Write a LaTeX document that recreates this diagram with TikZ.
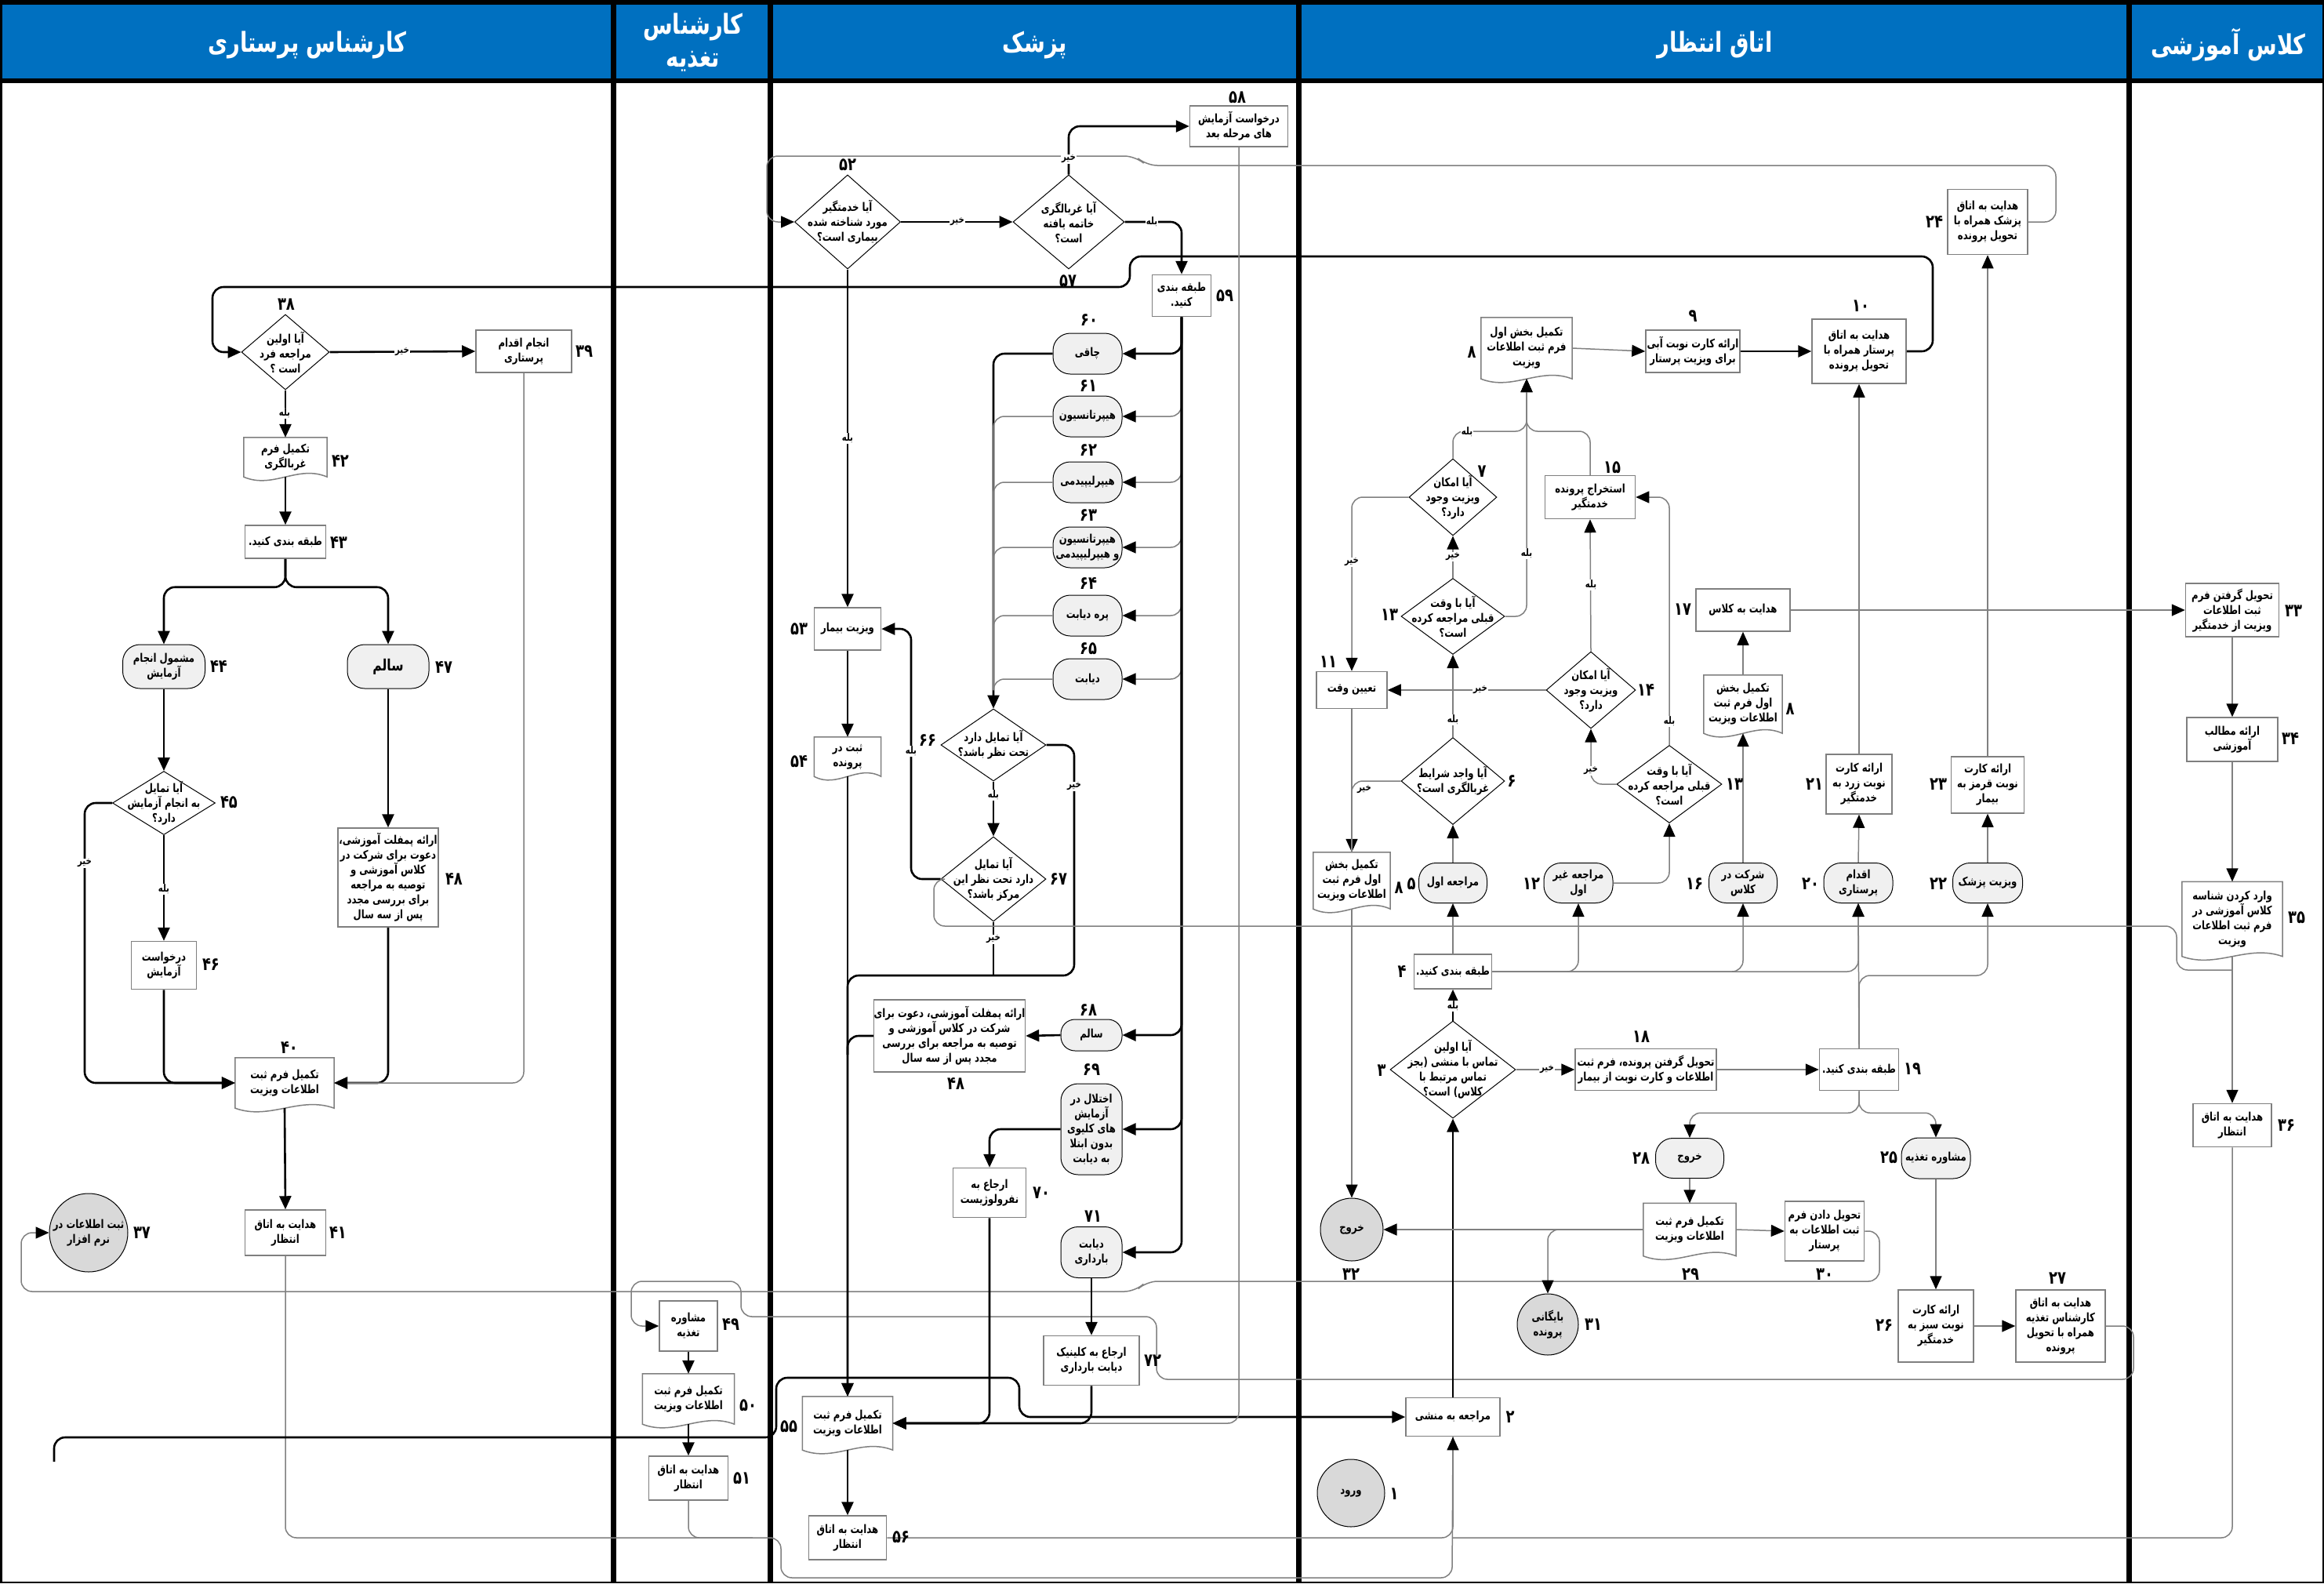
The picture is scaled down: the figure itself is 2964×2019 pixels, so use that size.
\documentclass[tikz,border=0pt]{standalone}
\usepackage{fontspec}
\usetikzlibrary{arrows.meta,shapes.geometric,calc}
\TeXXeTstate=1
\newfontfamily\fafont[Script=Arabic,FakeStretch=0.78]{DejaVu Sans}
\newcommand\rl[1]{\beginR#1\endR}
\definecolor{hdr}{HTML}{0070C0}
\definecolor{bord}{HTML}{7F7F7F}
\definecolor{stad}{HTML}{F0F0F0}
\definecolor{circ}{HTML}{D9D9D9}
\definecolor{thinln}{HTML}{808080}
\tikzset{
  txt/.style={font=\fafont\bfseries\fontsize{15}{19}\selectfont, align=center, inner sep=0pt},
  sz/.style 2 args={minimum width=#1pt, minimum height=#2pt},
  box/.style={txt, draw=bord, line width=1.5pt, fill=white, rectangle},
  doc/.style={txt, rectangle},
  stadium/.style={txt, draw=black, line width=1pt, fill=stad, rounded corners=22pt},
  dia/.style={diamond, draw=black, line width=1pt, fill=white, inner sep=0pt},
  circnode/.style={txt, circle, draw=black, line width=1pt, fill=circ},
  num/.style={font=\fafont\bfseries\fontsize{23}{23}\selectfont, inner sep=0pt},
  lbl/.style={font=\fafont\bfseries\fontsize{13}{13}\selectfont, fill=white, inner sep=1pt},
  hdrtxt/.style={font=\fafont\bfseries\fontsize{35}{42}\selectfont, text=white, align=center, inner sep=0pt},
  thk/.style={draw=black, line width=2.6pt, rounded corners=14pt},
  thn/.style={draw=thinln, line width=1.5pt, rounded corners=14pt},
  arr/.style={-{Triangle[length=17pt,width=15pt,color=black]}},
}
\newcommand\docdraw[1]{\draw[draw=bord,line width=1.5pt] (#1.south west) -- (#1.north west) -- (#1.north east) -- (#1.south east) .. controls ($(#1.south east)!0.35!(#1.south west)+(0,-16)$) and ($(#1.south east)!0.65!(#1.south west)+(0,16)$) .. (#1.south west) -- cycle;}
\begin{document}
\begin{tikzpicture}[x=1pt,y=-1pt]
\useasboundingbox (0,0) rectangle (2964,2019);
% ---------- lanes ----------
\fill[black] (0,0) rectangle (2964,6);
\fill[hdr] (0,6) rectangle (2964,100);
\fill[black] (0,100) rectangle (2964,106);
\foreach \xx in {782,982,1656,2715} {\draw[line width=7pt] (\xx,0) -- (\xx,2019);}
\draw[line width=3pt] (1.5,0) -- (1.5,2019);
\draw[line width=2pt] (2963,0) -- (2963,2019);
\draw[line width=2pt] (0,2018) -- (2964,2018);
\node[hdrtxt] (h1) at (392,57) {\rl{کارشناس پرستاری}};
\node[hdrtxt] (h2) at (884,54) {\rl{کارشناس}\\\rl{تغذیه}};
\node[hdrtxt] (h3) at (1320,57) {\rl{پزشک}};
\node[hdrtxt] (h4) at (2187,57) {\rl{اتاق انتظار}};
\node[hdrtxt] (h5) at (2842,57) {\rl{کلاس آموزشی}};

% ---------- lane 1: nursing ----------
\node[dia,sz={112}{96}] (d38) at (364,449) {};
\node[txt] (t38) at (d38) {\rl{آیا اولین}\\\rl{مراجعه فرد}\\\rl{است ؟}};
\node[box,sz={122}{54}] (n39) at (668,448) {\rl{انجام اقدام}\\\rl{پرستاری}};
\node[doc,sz={106}{50}] (n42) at (364,583) {\rl{تکمیل فرم}\\\rl{غربالگری}}; \docdraw{n42}
\node[box,sz={103}{42}] (n43) at (364,691) {\rl{طبقه بندی کنید.}};
\node[stadium,sz={105}{56}] (n44) at (209,850) {\rl{مشمول انجام}\\\rl{آزمایش}};
\node[stadium,sz={104}{56},font=\fafont\bfseries\fontsize{20}{22}\selectfont] (n47) at (495,850) {\rl{سالم}};
\node[dia,sz={131}{81}] (d45) at (209,1024) {};
\node[txt] (t45) at (d45) {\rl{آیا تمایل}\\\rl{به انجام آزمایش}\\\rl{دارد؟}};
\node[box,sz={83}{61}] (n46) at (209,1231) {\rl{درخواست}\\\rl{آزمایش}};
\node[box,sz={128}{126}] (n48) at (495,1119) {\rl{ارائه پمفلت آموزشی،}\\\rl{دعوت برای شرکت در}\\\rl{کلاس آموزشی و}\\\rl{توصیه به مراجعه}\\\rl{برای بررسی مجدد}\\\rl{پس از سه سال}};
\node[doc,sz={126}{64}] (n40) at (363,1381) {\rl{تکمیل فرم ثبت}\\\rl{اطلاعات ویزیت}}; \docdraw{n40}
\node[box,sz={103}{58}] (n41) at (364,1572) {\rl{هدایت به اتاق}\\\rl{انتظار}};
\node[circnode,minimum size=100pt] (c37) at (113,1572) {\rl{ثبت اطلاعات در}\\\rl{نرم افزار}};

% ---------- lane 2: nutrition ----------
\node[box,sz={74}{64}] (n49) at (878,1691) {\rl{مشاوره}\\\rl{تغذیه}};
\node[doc,sz={117}{64}] (n50) at (878,1784) {\rl{تکمیل فرم ثبت}\\\rl{اطلاعات ویزیت}}; \docdraw{n50}
\node[box,sz={101}{56}] (n51) at (878,1885) {\rl{هدایت به اتاق}\\\rl{انتظار}};

% ---------- lane 3: doctor ----------
\node[dia,sz={135}{120}] (d52) at (1081,283) {};
\node[txt] (t52) at (d52) {\rl{آیا خدمتگیر}\\\rl{مورد شناخته شده}\\\rl{بیماری است؟}};
\node[dia,sz={142}{120}] (d57) at (1363,283) {};
\node[txt] (t57) at (d57) {\rl{آیا غربالگری}\\\rl{خاتمه یافته}\\\rl{است؟}};
\node[box,sz={125}{52}] (n58) at (1580,161) {\rl{درخواست آزمایش}\\\rl{های مرحله بعد}};
\node[box,sz={75}{53}] (n59) at (1507,377) {\rl{طبقه بندی}\\\rl{کنید.}};
\node[stadium,sz={88}{52}] (n60) at (1387,451) {\rl{چاقی}};
\node[stadium,sz={88}{52}] (n61) at (1387,531) {\rl{هیپرتانسیون}};
\node[stadium,sz={88}{52}] (n62) at (1387,615) {\rl{هیپرلیپیدمی}};
\node[stadium,sz={88}{52}] (n63) at (1387,698) {\rl{هیپرتانسیون}\\\rl{و هیپرلیپیدمی}};
\node[stadium,sz={88}{52}] (n64) at (1387,785) {\rl{پره دیابت}};
\node[stadium,sz={88}{52}] (n65) at (1387,866) {\rl{دیابت}};
\node[dia,sz={134}{92}] (d66) at (1267,950) {};
\node[txt] (t66) at (d66) {\rl{آیا تمایل دارد}\\\rl{تحت نظر باشد؟}};
\node[dia,sz={134}{108}] (d67) at (1267,1121) {};
\node[txt] (t67) at (d67) {\rl{آیا تمایل}\\\rl{دارد تحت نظر این}\\\rl{مرکز باشد؟}};
\node[box,sz={85}{54}] (n53) at (1081,802) {\rl{ویزیت بیمار}};
\node[doc,sz={85}{50}] (n54) at (1081,965) {\rl{ثبت در}\\\rl{پرونده}}; \docdraw{n54}
\node[box,sz={193}{92}] (n48d) at (1211,1321) {\rl{ارائه پمفلت آموزشی، دعوت برای}\\\rl{شرکت در کلاس آموزشی و}\\\rl{توصیه به مراجعه برای بررسی}\\\rl{مجدد پس از سه سال}};
\node[stadium,sz={78}{40},rounded corners=18pt] (n68) at (1392,1320) {\rl{سالم}};
\node[stadium,sz={78}{116}] (n69) at (1392,1440) {\rl{اختلال در}\\\rl{آزمایش}\\\rl{های کلیوی}\\\rl{بدون ابتلا}\\\rl{به دیابت}};
\node[box,sz={93}{63}] (n70) at (1262,1521) {\rl{ارجاع به}\\\rl{نفرولوژیست}};
\node[stadium,sz={78}{65}] (n71) at (1392,1597) {\rl{دیابت}\\\rl{بارداری}};
\node[box,sz={122}{63}] (n72) at (1392,1735) {\rl{ارجاع به کلینیک}\\\rl{دیابت بارداری}};
\node[doc,sz={115}{68}] (n55) at (1081,1815) {\rl{تکمیل فرم ثبت}\\\rl{اطلاعات ویزیت}}; \docdraw{n55}
\node[box,sz={99}{56}] (n56) at (1081,1961) {\rl{هدایت به اتاق}\\\rl{انتظار}};

% ---------- lane 4: waiting room ----------
\node[circnode,minimum size=86pt] (c1) at (1723,1904) {\rl{ورود}};
\node[box,sz={120}{49}] (n2) at (1853,1807) {\rl{مراجعه به منشی}};
\node[dia,sz={160}{124}] (d3) at (1853,1364) {};
\node[txt] (t3) at (d3) {\rl{آیا اولین}\\\rl{تماس با منشی (بجز}\\\rl{تماس مرتبط با}\\\rl{کلاس) است؟}};
\node[box,sz={99}{44}] (n4) at (1853,1239) {\rl{طبقه بندی کنید.}};
\node[stadium,sz={87}{51}] (n5) at (1853,1126) {\rl{مراجعه اول}};
\node[stadium,sz={88}{51}] (n12) at (2013,1126) {\rl{مراجعه غیر}\\\rl{اول}};
\node[stadium,sz={87}{51}] (n16) at (2223,1126) {\rl{شرکت در}\\\rl{کلاس}};
\node[stadium,sz={88}{51}] (n20) at (2370,1126) {\rl{اقدام}\\\rl{پرستاری}};
\node[stadium,sz={89}{51}] (n22) at (2535,1126) {\rl{ویزیت پزشک}};
\node[doc,sz={98}{72}] (n8b) at (1724,1123) {\rl{تکمیل بخش}\\\rl{اول فرم ثبت}\\\rl{اطلاعات ویزیت}}; \docdraw{n8b}
\node[dia,sz={132}{111}] (d6) at (1853,996) {};
\node[txt] (t6) at (d6) {\rl{آیا واجد شرایط}\\\rl{غربالگری است؟}};
\node[dia,sz={132}{97}] (d13a) at (1853,786) {};
\node[txt] (t13a) at (d13a) {\rl{آیا با وقت}\\\rl{قبلی مراجعه کرده}\\\rl{است؟}};
\node[dia,sz={112}{98}] (d7) at (1853,634) {};
\node[txt] (t7) at (d7) {\rl{آیا امکان}\\\rl{ویزیت وجود}\\\rl{دارد؟}};
\node[box,sz={90}{47}] (n11) at (1724,880) {\rl{تعیین وقت}};
\node[doc,sz={116}{78}] (n8a) at (1947,444) {\rl{تکمیل بخش اول}\\\rl{فرم ثبت اطلاعات}\\\rl{ویزیت}}; \docdraw{n8a}
\node[box,sz={120}{54}] (n9) at (2159,448) {\rl{ارائه کارت نوبت آبی}\\\rl{برای ویزیت پرستار}};
\node[box,sz={120}{82}] (n10) at (2371,448) {\rl{هدایت به اتاق}\\\rl{پرستار همراه با}\\\rl{تحویل پرونده}};
\node[box,sz={115}{55}] (n15) at (2028,634) {\rl{استخراج پرونده}\\\rl{خدمتگیر}};
\node[dia,sz={114}{98}] (d14) at (2029,880) {};
\node[txt] (t14) at (d14) {\rl{آیا امکان}\\\rl{ویزیت وجود}\\\rl{دارد؟}};
\node[dia,sz={134}{99}] (d13b) at (2129,1000) {};
\node[txt] (t13b) at (d13b) {\rl{آیا با وقت}\\\rl{قبلی مراجعه کرده}\\\rl{است؟}};
\node[box,sz={120}{54}] (n17) at (2223,778) {\rl{هدایت به کلاس}};
\node[doc,sz={100}{74}] (n8c) at (2223,898) {\rl{تکمیل بخش}\\\rl{اول فرم ثبت}\\\rl{اطلاعات ویزیت}}; \docdraw{n8c}
\node[box,sz={84}{76}] (n21) at (2371,1000) {\rl{ارائه کارت}\\\rl{نوبت زرد به}\\\rl{خدمتگیر}};
\node[box,sz={93}{72}] (n23) at (2535,1001) {\rl{ارائه کارت}\\\rl{نوبت قرمز به}\\\rl{بیمار}};
\node[box,sz={102}{83}] (n24) at (2535,283) {\rl{هدایت به اتاق}\\\rl{پزشک همراه با}\\\rl{تحویل پرونده}};
\node[box,sz={180}{53}] (n18) at (2099,1364) {\rl{تحویل گرفتن پرونده، فرم ثبت}\\\rl{اطلاعات و کارت نوبت از بیمار}};
\node[box,sz={101}{53}] (n19) at (2371,1364) {\rl{طبقه بندی کنید.}};
\node[stadium,sz={87}{51}] (n28) at (2155,1477) {\rl{خروج}};
\node[doc,sz={118}{67}] (n29) at (2155,1568) {\rl{تکمیل فرم ثبت}\\\rl{اطلاعات ویزیت}}; \docdraw{n29}
\node[box,sz={101}{76}] (n30) at (2327,1570) {\rl{تحویل دادن فرم}\\\rl{ثبت اطلاعات به}\\\rl{پرستار}};
\node[circnode,minimum size=78pt] (c31) at (1974,1689) {\rl{بایگانی}\\\rl{پرونده}};
\node[circnode,minimum size=80pt] (c32) at (1724,1568) {\rl{خروج}};
\node[stadium,sz={88}{52}] (n25) at (2469,1477) {\rl{مشاوره تغذیه}};
\node[box,sz={96}{92}] (n26) at (2469,1691) {\rl{ارائه کارت}\\\rl{نوبت سبز به}\\\rl{خدمتگیر}};
\node[box,sz={114}{92}] (n27) at (2628,1691) {\rl{هدایت به اتاق}\\\rl{کارشناس تغذیه}\\\rl{همراه با تحویل}\\\rl{پرونده}};

% ---------- lane 5: class ----------
\node[box,sz={119}{68}] (n33) at (2847,778) {\rl{تحویل گرفتن فرم}\\\rl{ثبت اطلاعات}\\\rl{ویزیت از خدمتگیر}};
\node[box,sz={116}{56}] (n34) at (2847,943) {\rl{ارائه مطالب}\\\rl{آموزشی}};
\node[doc,sz={128}{95}] (n35) at (2847,1172) {\rl{وارد کردن شناسه}\\\rl{کلاس آموزشی در}\\\rl{فرم ثبت اطلاعات}\\\rl{ویزیت}}; \docdraw{n35}
\node[box,sz={100}{55}] (n36) at (2847,1435) {\rl{هدایت به اتاق}\\\rl{انتظار}};

% ---------- connectors: lane 1 ----------
\draw[thk,arr] (n10.east) -| (2465,327) -- (1441,327) -- (1441,366) -- (271,366) |- (d38.west);
\draw[thk,arr] (d38.east) -- (n39.west);
\draw[thk,arr] (d38.south) -- (n42.north);
\draw[thk,arr] (n42.south) -- (n43.north);
\draw[thk,arr] (n43.south) -- ++(0,36) -| (n44.north);
\draw[thk,arr] (n43.south) -- ++(0,36) -| (n47.north);
\draw[thk,arr] (n44.south) -- (d45.north);
\draw[thk,arr] (d45.west) -| (108,1381) -- (n40.west);
\draw[thk,arr] (d45.south) -- (n46.north);
\draw[thk,arr] (n46.south) |- (n40.west);
\draw[thk,arr] (n47.south) -- (n48.north);
\draw[thk,arr] (n48.south) |- (n40.east);
\draw[thn,arr] (n39.south) |- (n40.east);
\draw[thk,arr] (n40.south) -- (n41.north);
\draw[thn] (n41.south) |- (996,1961) |- (1852,2012) -- (n2.south);
\draw[thn] (n51.south) |- (960,1961);
\draw[thn,arr] (n56.east) -| (n2.south);
\draw[thn] (n36.south) |- (1852,1961);
\draw[thn,arr] (n30.east) -| (2397,1634) -- (1462,1634) -- (1448,1647) -- (27,1647) |- (c37.west);

% ---------- connectors: lane 2 ----------
\draw[thn,arr] (n27.east) -| (2721,1759) -- (1475,1759) -- (1475,1679) -- (945,1679) -- (945,1634) -- (805,1634) |- (n49.west);
\draw[thk,arr] (n49.south) -- (n50.north);
\draw[thk,arr] (n50.south) -- (n51.north);
\coordinate (s22) at (69,1864);
\draw[thk,arr] (s22) -- (69,1833) -- (990,1833) -- (990,1757) -- (1300,1757) -- (1300,1807) -- (n2.west);

% ---------- connectors: lane 3 ----------
\draw[thn,arr] (n24.east) -| (2622,211) -- (1462,211) -- (1448,199) -- (978,199) |- (d52.west);
\draw[thk,arr] (d52.east) -- (d57.west);
\draw[thk,arr] (d57.north) |- (n58.west);
\draw[thk,arr] (d57.east) -| (n59.north);
\draw[thn,arr] (n58.south) |- (n55.east);
\draw[thk,arr] (n59.south) |- (n60.east);
\foreach \n in {n61,n62,n63,n64,n65} {\draw[thn,arr] (n59.south) |- (\n.east);}
\draw[thk,arr] (n59.south) |- (n68.east);
\draw[thk,arr] (n59.south) |- (n69.east);
\draw[thk,arr] (n59.south) |- (n71.east);
\draw[thk,arr] (n60.west) -| (d66.north);
\foreach \n in {n61,n62,n63,n64,n65} {\draw[thn] (\n.west) -| (1267,880);}
\draw[thk,arr] (d66.south) -- (d67.north);
\draw[thk,arr] (d66.east) -| (1370,1244) -| (n55.north);
\draw[thk] (d67.south) -- (1267,1244);
\draw[thk,arr] (d67.west) -| (1162,802) -- (n53.east);
\draw[thn] (d67.west) -| (1191,1181) -- (2776,1181) |- (2847,1237);
\draw[thk,arr] (d52.south) -- (n53.north);
\draw[thk,arr] (n53.south) -- (n54.north);
\draw[thk,arr] (n54.south) -- (n55.north);
\draw[thk,arr] (n68.west) -- (n48d.east);
\draw[thk] (n48d.west) -| (1081,1345);
\draw[thk,arr] (n69.west) -| (n70.north);
\draw[thk,arr] (n70.south) |- (n55.east);
\draw[thk,arr] (n71.south) -- (n72.north);
\draw[thk,arr] (n72.south) |- (n55.east);
\draw[thk,arr] (n55.south) -- (n56.north);

% ---------- connectors: lane 4 ----------
\draw[thk,arr] (n2.north) -- (d3.south);
\draw[thk,arr] (d3.north) -- (n4.south);
\draw[thn,arr] (d3.east) -- (n18.west);
\draw[thn,arr] (n18.east) -- (n19.west);
\draw[thn,arr] (n19.south) -- ++(0,28) -| (n28.north);
\draw[thn,arr] (n19.south) -- ++(0,28) -| (n25.north);
\draw[thn,arr] (n28.south) -- (n29.north);
\draw[thn,arr] (n29.east) -- (n30.west);
\draw[thn,arr] (n29.west) -- (c32.east);
\draw[thn,arr] (n29.west) -| (c31.north);
\draw[thn,arr] (n25.south) -- (n26.north);
\draw[thn,arr] (n26.east) -- (n27.west);
\draw[thn,arr] (n4.north) -- (n5.south);
\draw[thn,arr] (n4.east) -| (n12.south);
\draw[thn,arr] (n4.east) -| (n16.south);
\draw[thn,arr] (n4.east) -| (n20.south);
\draw[thn,arr] (n19.north) -- (n20.south);
\draw[thn,arr] (n19.north) -- (2371,1244) -| (n22.south);
\draw[thn,arr] (n5.north) -- (d6.south);
\draw[thn,arr] (d6.north) -- (d13a.south);
\draw[thn,arr] (d6.west) -| (n8b.north);
\draw[thn] (n11.south) -- (n8b.north);
\draw[thn,arr] (n8b.south) -- (c32.north);
\draw[thn,arr] (d13a.north) -- (d7.south);
\draw[thn,arr] (d13a.east) -| (n8a.south);
\draw[thn,arr] (d7.north) |- (1947,550) -- (n8a.south);
\draw[thn,arr] (n15.north) |- (1947,550) -- (n8a.south);
\draw[thn,arr] (d7.west) -| (n11.north);
\draw[thn,arr] (n8a.east) -- (n9.west);
\draw[thk,arr] (n9.east) -- (n10.west);
\draw[thn,arr] (n12.east) -| (d13b.south);
\draw[thn,arr] (d13b.west) -| (d14.south);
\draw[thn,arr] (d14.north) -- (n15.south);
\draw[thn,arr] (d14.west) -- (n11.east);
\draw[thn,arr] (d13b.north) |- (n15.east);
\draw[thn,arr] (n16.north) -- (n8c.south);
\draw[thn,arr] (n8c.north) -- (n17.south);
\draw[thn,arr] (n17.east) -- (n33.west);
\draw[thn,arr] (n20.north) -- (n21.south);
\draw[thn,arr] (n21.north) -- (n10.south);
\draw[thn,arr] (n22.north) -- (n23.south);
\draw[thn,arr] (n23.north) -- (n24.south);

% ---------- connectors: lane 5 ----------
\draw[thn,arr] (n33.south) -- (n34.north);
\draw[thn,arr] (n34.south) -- (n35.north);
\draw[thn,arr] (n35.south) -- (n36.north);

% ---------- yes / no labels ----------
\node[lbl] (l1) at (513,449) {\rl{خیر}};
\node[lbl] (l2) at (363,527) {\rl{بله}};
\node[lbl] (l3) at (108,1101) {\rl{خیر}};
\node[lbl] (l4) at (209,1134) {\rl{بله}};
\node[lbl] (l5) at (1221,283) {\rl{خیر}};
\node[lbl] (l6) at (1363,203) {\rl{خیر}};
\node[lbl] (l7) at (1469,283) {\rl{بله}};
\node[lbl] (l8) at (1081,559) {\rl{بله}};
\node[lbl] (l9) at (1162,958) {\rl{بله}};
\node[lbl] (l10) at (1267,1014) {\rl{بله}};
\node[lbl] (l11) at (1370,1003) {\rl{خیر}};
\node[lbl] (l12) at (1267,1198) {\rl{خیر}};
\node[lbl] (l13) at (1853,1283) {\rl{بله}};
\node[lbl] (l14) at (1973,1364) {\rl{خیر}};
\node[lbl] (l15) at (1871,551) {\rl{بله}};
\node[lbl] (l16) at (1724,717) {\rl{خیر}};
\node[lbl] (l17) at (1853,710) {\rl{خیر}};
\node[lbl] (l18) at (1947,706) {\rl{بله}};
\node[lbl] (l19) at (1853,918) {\rl{بله}};
\node[lbl] (l20) at (1740,1007) {\rl{خیر}};
\node[lbl] (l21) at (1888,880) {\rl{خیر}};
\node[lbl] (l22) at (2029,746) {\rl{بله}};
\node[lbl] (l23) at (2029,983) {\rl{خیر}};
\node[lbl] (l24) at (2129,920) {\rl{بله}};

% ---------- step numbers ----------
\node[num] (k38) at (365,388) {۳۸};
\node[num] (k39) at (745,448) {۳۹};
\node[num] (k42) at (434,588) {۴۲};
\node[num] (k43) at (432,692) {۴۳};
\node[num] (k44) at (279,850) {۴۴};
\node[num] (k47) at (566,851) {۴۷};
\node[num] (k45) at (292,1023) {۴۵};
\node[num] (k46) at (269,1230) {۴۶};
\node[num] (k48) at (579,1121) {۴۸};
\node[num] (k40) at (369,1336) {۴۰};
\node[num] (k41) at (431,1572) {۴۱};
\node[num] (k37) at (181,1572) {۳۷};
\node[num] (k49) at (932,1689) {۴۹};
\node[num] (k50) at (954,1792) {۵۰};
\node[num] (k51) at (946,1885) {۵۱};
\node[num] (k52) at (1081,210) {۵۲};
\node[num] (k57) at (1362,358) {۵۷};
\node[num] (k58) at (1578,124) {۵۸};
\node[num] (k59) at (1562,377) {۵۹};
\node[num] (k60) at (1389,408) {۶۰};
\node[num] (k61) at (1388,492) {۶۱};
\node[num] (k62) at (1388,574) {۶۲};
\node[num] (k63) at (1388,657) {۶۳};
\node[num] (k64) at (1388,744) {۶۴};
\node[num] (k65) at (1388,827) {۶۵};
\node[num] (k66) at (1183,944) {۶۶};
\node[num] (k67) at (1350,1121) {۶۷};
\node[num] (k53) at (1019,802) {۵۳};
\node[num] (k54) at (1019,971) {۵۴};
\node[num] (k48d) at (1219,1382) {۴۸};
\node[num] (k68) at (1388,1288) {۶۸};
\node[num] (k69) at (1392,1364) {۶۹};
\node[num] (k70) at (1328,1521) {۷۰};
\node[num] (k71) at (1394,1551) {۷۱};
\node[num] (k72) at (1470,1735) {۷۲};
\node[num] (k55) at (1006,1819) {۵۵};
\node[num] (k56) at (1149,1960) {۵۶};
\node[num] (k1) at (1778,1905) {۱};
\node[num] (k2) at (1926,1807) {۲};
\node[num] (k3) at (1762,1365) {۳};
\node[num] (k4) at (1788,1239) {۴};
\node[num] (k5) at (1800,1127) {۵};
\node[num] (k12) at (1953,1127) {۱۲};
\node[num] (k16) at (2161,1127) {۱۶};
\node[num] (k20) at (2309,1127) {۲۰};
\node[num] (k22) at (2472,1127) {۲۲};
\node[num] (k8b) at (1784,1132) {۸};
\node[num] (k6) at (1928,996) {۶};
\node[num] (k13a) at (1772,784) {۱۳};
\node[num] (k7) at (1890,601) {۷};
\node[num] (k11) at (1694,844) {۱۱};
\node[num] (k8a) at (1877,449) {۸};
\node[num] (k9) at (2159,403) {۹};
\node[num] (k10) at (2373,390) {۱۰};
\node[num] (k15) at (2056,596) {۱۵};
\node[num] (k14) at (2099,880) {۱۴};
\node[num] (k13b) at (2212,1000) {۱۳};
\node[num] (k17) at (2146,777) {۱۷};
\node[num] (k8c) at (2283,904) {۸};
\node[num] (k21) at (2314,1000) {۲۱};
\node[num] (k23) at (2472,1000) {۲۳};
\node[num] (k24) at (2467,283) {۲۴};
\node[num] (k18) at (2093,1322) {۱۸};
\node[num] (k19) at (2439,1363) {۱۹};
\node[num] (k28) at (2093,1477) {۲۸};
\node[num] (k29) at (2156,1625) {۲۹};
\node[num] (k30) at (2327,1625) {۳۰};
\node[num] (k31) at (2032,1689) {۳۱};
\node[num] (k32) at (1723,1625) {۳۲};
\node[num] (k25) at (2409,1476) {۲۵};
\node[num] (k26) at (2403,1690) {۲۶};
\node[num] (k27) at (2624,1630) {۲۷};
\node[num] (k33) at (2925,779) {۳۳};
\node[num] (k34) at (2921,942) {۳۴};
\node[num] (k35) at (2929,1170) {۳۵};
\node[num] (k36) at (2916,1435) {۳۶};
\end{tikzpicture}
\end{document}
